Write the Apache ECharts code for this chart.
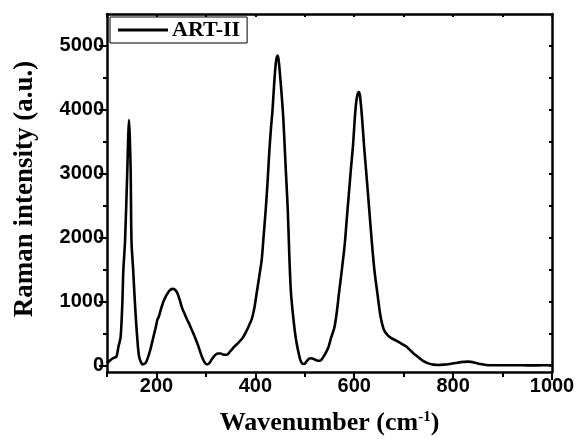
<!DOCTYPE html>
<html>
<head>
<meta charset="utf-8">
<script src="https://cdn.jsdelivr.net/npm/echarts@6/dist/echarts.min.js"></script>
<style>
  html, body { margin: 0; padding: 0; background: #fff; }
  #chart { width: 579px; height: 441px; }
</style>
</head>
<body>
<div id="chart"></div>
<script>
// Raman spectrum of sample ART-II: wavenumber (cm^-1) and intensity (a.u.)
const wavenumber = [
  100, 106, 112, 119, 123, 127.6, 131, 133, 136.5, 141, 143, 144.4, 146, 147.9, 149.5, 153, 156.6, 161, 165, 172,
  178, 183, 188, 193, 198, 202, 205, 209, 214, 220, 226, 232, 237, 242, 247, 252, 257, 262, 267, 272,
  278, 284, 290, 296, 302, 307, 312, 318, 324, 330, 336, 342, 350, 358, 366, 374, 382, 388, 393, 398,
  403, 408, 413, 417, 421, 425, 428, 431.5, 434.7, 438, 441, 443.5, 445.5, 448, 451, 455.6, 458, 460, 463, 465.6,
  469, 472, 477, 482, 487, 491, 495, 499, 504, 509, 514, 520, 526, 531, 538, 547, 553, 560, 565, 569,
  575, 580.8, 585, 589, 593, 597.6, 601, 604, 607, 609, 611.5, 614.5, 617, 619.8, 624, 628, 632, 636, 641, 647,
  653, 660, 667, 675, 685, 695, 705, 712, 720, 730, 740, 750, 760, 770, 780, 793, 805, 815, 830, 845,
  855, 867, 880, 900, 920, 940, 960, 980, 1000
];
const intensity = [
  40, 80, 115, 140, 290, 450, 966, 1483, 1950, 3033, 3600, 3840, 3600, 3033, 1950, 1483, 966, 450, 140, 20,
  40, 130, 260, 420, 580, 720, 770, 880, 1000, 1100, 1170, 1200, 1190, 1140, 1030, 900, 810, 720, 640, 550,
  440, 320, 180, 70, 20, 40, 100, 160, 190, 190, 170, 170, 230, 300, 360, 430, 540, 640, 733, 900,
  1147, 1400, 1663, 2050, 2438, 2900, 3317, 3700, 3990, 4400, 4700, 4830, 4850, 4720, 4450, 3990, 3650, 3317, 2850, 2438,
  1663, 1147, 733, 420, 217, 90, 30, 25, 70, 110, 115, 95, 75, 75, 140, 270, 430, 600, 850, 1121,
  1500, 1896, 2300, 2671, 3050, 3446, 3850, 4120, 4250, 4280, 4230, 4000, 3750, 3446, 3050, 2671, 2280, 1896, 1480, 1121,
  780, 560, 480, 430, 390, 345, 300, 250, 190, 130, 70, 35, 15, 10, 15, 26, 40, 55, 62, 45,
  25, 10, 5, 5, 5, 5, 3, 5, 5
];

// Axis ticks and labels
const xMajorTicks = [200, 400, 600, 800, 1000];
const xMinorTicks = [100, 300, 500, 700, 900];
const xTopTicks = [100, 200, 300, 400, 500, 600, 700, 800, 900, 1000];
const yMajorTicks = [0, 1000, 2000, 3000, 4000, 5000];
const yMinorTicks = [500, 1500, 2500, 3500, 4500];
const yRightTicks = [0, 500, 1000, 1500, 2000, 2500, 3000, 3500, 4000, 4500, 5000];

const seriesName = 'ART-II';
const xRange = [100, 1000];
const yRange = [-100, 5500];

const points = wavenumber.map((w, i) => [w, intensity[i]]);

const LINE = { show: true, onZero: false, lineStyle: { color: '#000', width: 2.5 } };
const NOLINE = { show: false, onZero: false };
const tickFont = { fontFamily: 'Liberation Sans', fontWeight: 'bold', fontSize: 20, color: '#000' };
const titleFont = { fontFamily: 'Liberation Serif', fontWeight: 'bold', color: '#000' };

function plain(v) { return String(v); }

function xAxisDef(pos, ticks, len, inside, withLabels, withLine) {
  return {
    type: 'value', position: pos, min: xRange[0], max: xRange[1],
    splitLine: { show: false },
    axisLine: withLine ? LINE : NOLINE,
    axisTick: { show: true, inside: inside, length: len, customValues: ticks, lineStyle: { color: '#000', width: 2 } },
    axisLabel: withLabels ? Object.assign({ customValues: ticks, margin: 4, formatter: plain }, tickFont) : { show: false }
  };
}
function yAxisDef(pos, ticks, len, inside, withLabels, withLine) {
  return {
    type: 'value', position: pos, min: yRange[0], max: yRange[1],
    splitLine: { show: false },
    axisLine: withLine ? LINE : NOLINE,
    axisTick: { show: true, inside: inside, length: len, customValues: ticks, lineStyle: { color: '#000', width: 2 } },
    axisLabel: withLabels ? Object.assign({ customValues: ticks, margin: 3, formatter: plain }, tickFont) : { show: false }
  };
}

const chart = echarts.init(document.getElementById('chart'), null, { renderer: 'canvas' });

const xMain = xAxisDef('bottom', xMajorTicks, 8, false, true, true);
xMain.name = '{t|Wavenumber (cm}{s|-1}{t|)}';
xMain.nameLocation = 'middle';
xMain.nameGap = 38;
xMain.nameTextStyle = {
  rich: {
    t: Object.assign({ fontSize: 26 }, titleFont),
    s: Object.assign({ fontSize: 15, verticalAlign: 'top' }, titleFont)
  }
};

const yMain = yAxisDef('left', yMajorTicks, 8, false, true, true);
yMain.name = 'Raman intensity (a.u.)';
yMain.nameLocation = 'middle';
yMain.nameGap = 68;
yMain.nameTextStyle = Object.assign({ fontSize: 27, padding: [0, 0, 0, 8] }, titleFont);

chart.setOption({
  animation: false,
  backgroundColor: '#fff',
  grid: { left: 107, right: 27, top: 14, bottom: 66, containLabel: false },
  legend: {
    left: 110, top: 17,
    data: [seriesName],
    icon: 'path://M0,0H50V3H0Z',
    itemWidth: 50, itemHeight: 3, itemGap: 4,
    padding: [2, 7, 2, 8],
    borderColor: '#000', borderWidth: 1,
    itemStyle: { color: '#000' },
    textStyle: Object.assign({ fontSize: 22, padding: [0, 0, 0, -1] }, titleFont)
  },
  xAxis: [
    xMain,
    xAxisDef('bottom', xMinorTicks, 5, false, false, false),
    xAxisDef('top', xTopTicks, 3, true, false, true)
  ],
  yAxis: [
    yMain,
    yAxisDef('left', yMinorTicks, 4, false, false, false),
    yAxisDef('right', yRightTicks, 3, true, false, true)
  ],
  series: [{
    name: seriesName,
    type: 'line',
    xAxisIndex: 0, yAxisIndex: 0,
    data: points,
    symbol: 'none',
    smooth: 0.25,
    lineStyle: { color: '#000', width: 2.6 },
    itemStyle: { color: '#000' }
  }]
});
</script>
</body>
</html>
